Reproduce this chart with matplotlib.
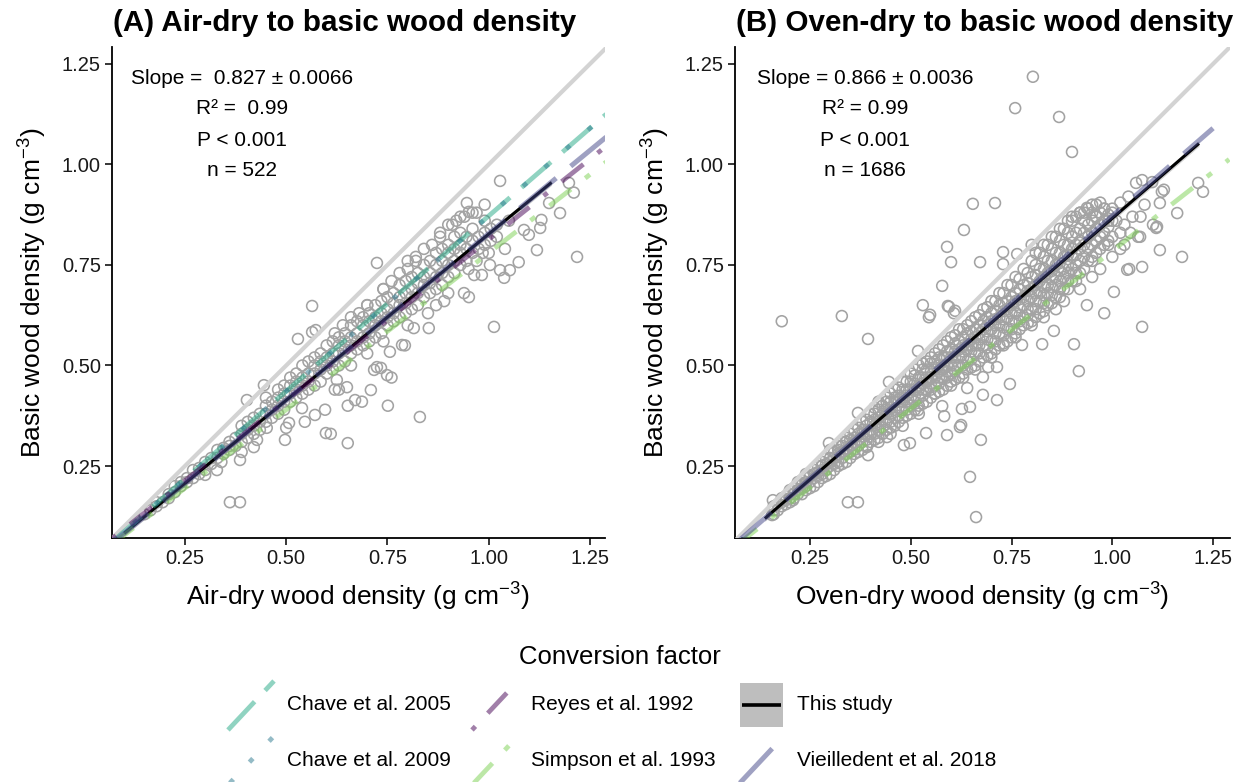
import matplotlib
matplotlib.use("Agg")
import matplotlib.pyplot as plt
from matplotlib.patches import Rectangle

# ---------------- text ----------------
panel_titles = ["(A) Air-dry to basic wood density", "(B) Oven-dry to basic wood density"]
x_labels = ["Air-dry wood density (g cm$^{-3}$)", "Oven-dry wood density (g cm$^{-3}$)"]
y_label = "Basic wood density (g cm$^{-3}$)"
tick_values = [0.25, 0.50, 0.75, 1.00, 1.25]
tick_labels = ["0.25", "0.50", "0.75", "1.00", "1.25"]
stats_A = ["Slope =  0.827 ± 0.0066", "R² =  0.99", "P < 0.001", "n = 522"]
stats_B = ["Slope = 0.866 ± 0.0036", "R² = 0.99", "P < 0.001", "n = 1686"]
legend_title = "Conversion factor"
legend_labels = ["Chave et al. 2005", "Chave et al. 2009", "Reyes et al. 1992",
                 "Simpson et al. 1993", "This study", "Vieilledent et al. 2018"]

# ---------------- conversion lines: slope, intercept, x from, x to ----------------
lines_A = {
    "Chave et al. 2005": (0.872, 0.0, 0.07, 1.29),
    "Chave et al. 2009": (0.872, 0.0, 0.07, 1.29),
    "Reyes et al. 1992": (0.800, 0.0134, 0.07, 1.29),
    "Simpson et al. 1993": (0.780, 0.0, 0.07, 1.29),
    "Vieilledent et al. 2018": (0.828, 0.0, 0.07, 1.29),
}
this_study_A = (0.827, 0.0, 0.10, 1.155)
lines_B = {
    "Simpson et al. 1993": (0.785, 0.0, 0.066, 1.29),
    "Vieilledent et al. 2018": (0.872, 0.0, 0.066, 1.25),
}
this_study_B = (0.866, 0.0, 0.138, 1.215)

# ---------------- points, panel A ----------------
a_band_x = [0.15, 0.18, 0.21, 0.24, 0.27, 0.30, 0.33, 0.36, 0.39, 0.42, 0.45, 0.48,
            0.51, 0.54, 0.57, 0.60, 0.63, 0.66, 0.69, 0.72, 0.75, 0.78, 0.81, 0.84,
            0.87, 0.90, 0.93, 0.96, 0.99, 1.02, 1.05]
a_band_y = [[0.13], [0.15, 0.16], [0.17, 0.18], [0.20, 0.21], [0.22, 0.24], [0.24, 0.26],
            [0.27, 0.29], [0.29, 0.30, 0.31], [0.31, 0.33, 0.35], [0.33, 0.35, 0.37],
            [0.36, 0.38, 0.40, 0.42], [0.38, 0.40, 0.42, 0.44], [0.41, 0.43, 0.45, 0.47],
            [0.43, 0.45, 0.47, 0.50], [0.45, 0.48, 0.50, 0.52], [0.48, 0.50, 0.52, 0.55],
            [0.50, 0.53, 0.55, 0.57], [0.53, 0.55, 0.57, 0.60], [0.55, 0.57, 0.60, 0.62],
            [0.57, 0.60, 0.62, 0.65], [0.60, 0.62, 0.64, 0.67], [0.62, 0.65, 0.67, 0.70],
            [0.64, 0.67, 0.69, 0.72], [0.67, 0.70, 0.72, 0.75], [0.69, 0.72, 0.75, 0.78],
            [0.72, 0.75, 0.78, 0.80], [0.75, 0.78, 0.80, 0.83], [0.78, 0.81, 0.84],
            [0.80, 0.83, 0.86], [0.82, 0.85], [0.86]]
a_band2_x = [0.165, 0.195, 0.225, 0.255, 0.285, 0.315, 0.345, 0.375, 0.405, 0.435, 0.465,
             0.495, 0.525, 0.555, 0.585, 0.615, 0.645, 0.675, 0.705, 0.735, 0.765, 0.795,
             0.825, 0.855, 0.885, 0.915, 0.945, 0.975, 1.005]
a_band2_y = [[0.14], [0.16], [0.185, 0.20], [0.21, 0.22], [0.23, 0.245], [0.255, 0.27],
             [0.28, 0.295], [0.30, 0.32], [0.32, 0.34, 0.36], [0.34, 0.36, 0.38],
             [0.37, 0.39, 0.41], [0.39, 0.41, 0.43, 0.45], [0.42, 0.44, 0.46, 0.48],
             [0.44, 0.46, 0.48, 0.51], [0.46, 0.49, 0.51, 0.53], [0.49, 0.51, 0.53, 0.56],
             [0.51, 0.54, 0.56, 0.58], [0.54, 0.56, 0.58, 0.61], [0.56, 0.58, 0.61, 0.63],
             [0.58, 0.61, 0.63, 0.66], [0.61, 0.63, 0.655, 0.68], [0.63, 0.655, 0.68, 0.71],
             [0.65, 0.68, 0.705, 0.73], [0.68, 0.705, 0.73, 0.76], [0.70, 0.73, 0.76, 0.79],
             [0.73, 0.76, 0.79, 0.82], [0.76, 0.79, 0.82], [0.79, 0.82], [0.81, 0.84]]
a_extra_x = [0.361, 0.386, 0.300, 0.329, 0.340, 0.386, 0.390, 0.420, 0.428, 0.452, 0.445,
             0.403, 0.497, 0.500, 0.507, 0.529, 0.539, 0.546, 0.564, 0.564, 0.571, 0.596,
             0.598, 0.625, 0.620, 0.630, 0.650, 0.652, 0.652, 0.670, 0.717, 0.724, 0.724,
             0.749, 0.756, 0.786, 0.815, 0.852, 0.939, 0.946, 0.951, 0.951, 0.964, 0.983,
             1.003, 1.013, 1.028, 1.028, 1.038, 1.052, 1.074, 1.087, 1.099, 1.119, 1.127,
             1.130, 1.149, 1.176, 1.198, 1.210, 1.218, 0.830, 0.610, 0.751, 0.793, 0.687,
             0.709, 0.760, 0.734, 0.573, 0.880, 0.910, 0.930, 0.960, 0.890, 0.985, 0.870,
             0.820, 0.800, 0.700, 0.740,
             0.620, 0.660, 0.700, 0.740, 0.780, 0.820, 0.860, 0.880, 0.900, 0.920, 0.940,
             0.970, 0.990, 0.840, 0.800, 0.760, 0.680, 0.640,
             0.660, 0.700, 0.740, 0.800, 0.850, 0.900, 0.950, 1.000, 0.970, 1.040]
a_extra_y = [0.160, 0.160, 0.228, 0.240, 0.260, 0.265, 0.285, 0.297, 0.315, 0.345, 0.451,
             0.414, 0.315, 0.345, 0.357, 0.566, 0.394, 0.360, 0.583, 0.648, 0.377, 0.390,
             0.332, 0.464, 0.440, 0.440, 0.446, 0.307, 0.400, 0.414, 0.489, 0.496, 0.755,
             0.476, 0.534, 0.551, 0.593, 0.593, 0.680, 0.904, 0.670, 0.882, 0.725, 0.725,
             0.750, 0.596, 0.959, 0.737, 0.718, 0.737, 0.757, 0.837, 0.825, 0.787, 0.842,
             0.862, 0.904, 0.879, 0.954, 0.930, 0.770, 0.372, 0.330, 0.400, 0.550, 0.410,
             0.439, 0.470, 0.494, 0.588, 0.820, 0.850, 0.870, 0.880, 0.660, 0.780, 0.650,
             0.760, 0.740, 0.650, 0.690,
             0.580, 0.620, 0.650, 0.690, 0.730, 0.770, 0.800, 0.830, 0.850, 0.860, 0.870,
             0.880, 0.900, 0.790, 0.760, 0.710, 0.630, 0.600,
             0.500, 0.530, 0.560, 0.600, 0.630, 0.680, 0.740, 0.780, 0.760, 0.790]

# ---------------- points, panel B ----------------
b_band_x = [0.16, 0.18, 0.20, 0.22, 0.24, 0.26, 0.28, 0.30, 0.32, 0.34, 0.36, 0.38, 0.40,
            0.42, 0.44, 0.46, 0.48, 0.50, 0.52, 0.54, 0.56, 0.58, 0.60, 0.62, 0.64, 0.66,
            0.68, 0.70, 0.72, 0.74, 0.76, 0.78, 0.80, 0.82, 0.84, 0.86, 0.88, 0.90, 0.92,
            0.94, 0.96, 0.98, 1.00]
b_band_y = [[0.13, 0.14, 0.15], [0.15, 0.16, 0.17], [0.16, 0.17, 0.18, 0.19],
            [0.18, 0.19, 0.20, 0.21], [0.19, 0.20, 0.21, 0.22, 0.23], [0.20, 0.22, 0.23, 0.24],
            [0.22, 0.23, 0.24, 0.25, 0.26], [0.23, 0.25, 0.26, 0.27, 0.29],
            [0.25, 0.26, 0.28, 0.29, 0.30], [0.26, 0.28, 0.29, 0.31, 0.32],
            [0.28, 0.29, 0.31, 0.32, 0.34], [0.29, 0.31, 0.33, 0.34, 0.36],
            [0.31, 0.33, 0.34, 0.36, 0.38], [0.32, 0.34, 0.36, 0.37, 0.39, 0.41],
            [0.34, 0.36, 0.38, 0.39, 0.41, 0.42], [0.35, 0.37, 0.39, 0.41, 0.42, 0.44],
            [0.37, 0.39, 0.41, 0.42, 0.44, 0.46], [0.38, 0.40, 0.42, 0.44, 0.46, 0.48],
            [0.40, 0.42, 0.44, 0.45, 0.47, 0.50], [0.41, 0.44, 0.46, 0.47, 0.49, 0.51],
            [0.43, 0.45, 0.47, 0.49, 0.51, 0.53], [0.44, 0.47, 0.49, 0.50, 0.52, 0.55],
            [0.46, 0.48, 0.50, 0.52, 0.54, 0.57], [0.47, 0.50, 0.52, 0.54, 0.56, 0.59],
            [0.49, 0.51, 0.54, 0.55, 0.58, 0.60], [0.50, 0.53, 0.55, 0.57, 0.59, 0.62],
            [0.52, 0.55, 0.57, 0.59, 0.61, 0.64], [0.53, 0.56, 0.59, 0.61, 0.63, 0.66],
            [0.55, 0.58, 0.60, 0.62, 0.65, 0.68], [0.56, 0.59, 0.62, 0.64, 0.66, 0.70],
            [0.58, 0.61, 0.63, 0.66, 0.68, 0.72], [0.60, 0.62, 0.65, 0.67, 0.70, 0.74],
            [0.61, 0.64, 0.67, 0.69, 0.72, 0.76, 0.80], [0.63, 0.66, 0.68, 0.71, 0.74, 0.78],
            [0.65, 0.68, 0.70, 0.73, 0.76, 0.80], [0.67, 0.70, 0.72, 0.75, 0.78, 0.82],
            [0.69, 0.72, 0.74, 0.77, 0.80, 0.84], [0.71, 0.74, 0.77, 0.79, 0.82, 0.86],
            [0.73, 0.76, 0.79, 0.81, 0.84, 0.88], [0.76, 0.79, 0.82, 0.85, 0.89],
            [0.78, 0.81, 0.84, 0.87, 0.90], [0.80, 0.83, 0.86, 0.89], [0.82, 0.86, 0.89]]
b_band2_x = [0.17, 0.19, 0.21, 0.23, 0.25, 0.27, 0.29, 0.31, 0.33, 0.35, 0.37, 0.39, 0.41,
             0.43, 0.45, 0.47, 0.49, 0.51, 0.53, 0.55, 0.57, 0.59, 0.61, 0.63, 0.65, 0.67,
             0.69, 0.71, 0.73, 0.75, 0.77, 0.79, 0.81, 0.83, 0.85, 0.87, 0.89, 0.91, 0.93,
             0.95, 0.97, 0.99]
b_band2_y = [[0.14, 0.155], [0.155, 0.165, 0.175], [0.17, 0.18, 0.195],
             [0.18, 0.195, 0.205, 0.215], [0.195, 0.21, 0.225], [0.21, 0.225, 0.235, 0.25],
             [0.225, 0.24, 0.255, 0.27], [0.24, 0.255, 0.27, 0.285],
             [0.255, 0.27, 0.285, 0.30, 0.31], [0.27, 0.285, 0.30, 0.315, 0.33],
             [0.285, 0.30, 0.315, 0.33, 0.345], [0.30, 0.315, 0.33, 0.35, 0.365],
             [0.315, 0.33, 0.35, 0.365, 0.38, 0.395], [0.33, 0.345, 0.365, 0.38, 0.40],
             [0.345, 0.36, 0.38, 0.395, 0.41, 0.43], [0.36, 0.375, 0.395, 0.41, 0.425, 0.445],
             [0.375, 0.39, 0.41, 0.425, 0.44, 0.46],
             [0.39, 0.41, 0.425, 0.44, 0.455, 0.475, 0.49],
             [0.405, 0.425, 0.44, 0.455, 0.47, 0.49, 0.505],
             [0.42, 0.44, 0.455, 0.47, 0.485, 0.505, 0.52],
             [0.435, 0.455, 0.47, 0.485, 0.50, 0.52, 0.54],
             [0.45, 0.47, 0.485, 0.50, 0.52, 0.535, 0.56],
             [0.465, 0.485, 0.50, 0.52, 0.535, 0.555, 0.575],
             [0.48, 0.50, 0.52, 0.535, 0.55, 0.57, 0.59],
             [0.495, 0.515, 0.535, 0.55, 0.565, 0.585, 0.61],
             [0.51, 0.53, 0.55, 0.565, 0.58, 0.60, 0.625],
             [0.525, 0.545, 0.565, 0.585, 0.60, 0.62, 0.645],
             [0.54, 0.56, 0.58, 0.60, 0.615, 0.635, 0.66],
             [0.555, 0.575, 0.595, 0.615, 0.635, 0.655, 0.68],
             [0.57, 0.59, 0.61, 0.63, 0.65, 0.67, 0.70],
             [0.59, 0.61, 0.625, 0.645, 0.665, 0.69, 0.715],
             [0.605, 0.625, 0.64, 0.66, 0.685, 0.705, 0.73],
             [0.62, 0.64, 0.66, 0.68, 0.70, 0.725, 0.75, 0.78],
             [0.635, 0.655, 0.675, 0.695, 0.72, 0.74, 0.77, 0.80],
             [0.655, 0.675, 0.695, 0.715, 0.735, 0.76, 0.79, 0.82],
             [0.67, 0.69, 0.71, 0.735, 0.755, 0.78, 0.81, 0.84],
             [0.69, 0.71, 0.73, 0.75, 0.775, 0.80, 0.83, 0.86],
             [0.71, 0.73, 0.75, 0.775, 0.80, 0.83, 0.87],
             [0.74, 0.77, 0.80, 0.83, 0.86, 0.88], [0.77, 0.80, 0.83, 0.86, 0.88],
             [0.79, 0.82, 0.85, 0.88], [0.81, 0.845, 0.875]]
b_extra_x = [0.180, 0.329, 0.394, 0.530, 0.545, 0.592, 0.607, 0.518, 0.446, 0.369, 0.297,
             0.158, 0.208, 0.156, 0.344, 0.369, 0.647, 0.662, 0.674, 0.590, 0.538, 0.483,
             0.498, 0.394, 0.391, 0.441, 0.583, 0.578, 0.518, 0.625, 0.622, 0.647, 0.627,
             0.679, 0.714, 0.679, 0.692, 0.714, 0.640, 0.746, 0.855, 0.826, 0.776, 0.905,
             0.917, 0.937, 0.980, 1.004, 1.074, 1.037, 1.074, 1.042, 1.118, 1.173, 1.064,
             1.069, 1.109, 1.101, 1.111, 1.161, 1.118, 1.123, 1.128, 1.059, 1.074, 1.099,
             1.213, 1.225, 0.900, 0.803, 0.759, 0.868, 0.654, 0.709, 0.632, 0.590, 0.600,
             0.672, 0.729, 0.729, 0.764, 0.578, 0.548, 0.595, 0.610, 0.560, 0.600, 0.630,
             0.660, 0.700, 0.730, 0.760, 0.800, 0.830, 0.860, 0.880, 0.920, 0.950, 0.970,
             1.000, 1.020, 0.950, 0.990, 1.030, 0.450, 0.480, 0.520, 0.420, 0.937, 0.950,
             0.970, 0.980, 1.000, 1.020, 1.040, 0.960, 0.920, 0.900, 0.990, 1.010, 1.030,
             1.050, 1.020, 1.045, 1.070, 1.080]
b_extra_y = [0.610, 0.623, 0.566, 0.650, 0.620, 0.648, 0.630, 0.536, 0.459, 0.382, 0.307,
             0.165, 0.165, 0.128, 0.160, 0.160, 0.223, 0.123, 0.315, 0.327, 0.332, 0.302,
             0.307, 0.277, 0.297, 0.322, 0.374, 0.399, 0.389, 0.352, 0.347, 0.397, 0.392,
             0.427, 0.414, 0.471, 0.496, 0.496, 0.444, 0.454, 0.586, 0.553, 0.551, 0.553,
             0.486, 0.650, 0.630, 0.683, 0.596, 0.738, 0.745, 0.740, 0.787, 0.770, 0.820,
             0.820, 0.842, 0.850, 0.845, 0.879, 0.904, 0.932, 0.937, 0.954, 0.961, 0.956,
             0.954, 0.932, 1.031, 1.218, 1.140, 1.118, 0.902, 0.904, 0.837, 0.795, 0.757,
             0.757, 0.752, 0.782, 0.777, 0.698, 0.626, 0.646, 0.636, 0.430, 0.450, 0.470,
             0.490, 0.520, 0.550, 0.570, 0.600, 0.620, 0.640, 0.660, 0.690, 0.720, 0.740,
             0.770, 0.790, 0.760, 0.800, 0.800, 0.330, 0.350, 0.380, 0.310, 0.892, 0.900,
             0.905, 0.890, 0.880, 0.905, 0.920, 0.870, 0.880, 0.870, 0.860, 0.860, 0.850,
             0.870, 0.830, 0.830, 0.870, 0.900]

# ---------------- style ----------------
plt.rcParams['font.family'] = ['Liberation Sans', 'DejaVu Sans']
plt.rcParams['mathtext.fontset'] = 'custom'
plt.rcParams['mathtext.rm'] = 'Liberation Sans'
plt.rcParams['mathtext.it'] = 'Liberation Sans:italic'
plt.rcParams['mathtext.bf'] = 'Liberation Sans:bold'
plt.rcParams['lines.scale_dashes'] = False

styles = {
    "Chave et al. 2005": dict(color='#22A884', ls=(0, (28, 11)), lw=3.4),
    "Chave et al. 2009": dict(color='#2A788E', ls=(0, (3.6, 17)), lw=3.4),
    "Reyes et al. 1992": dict(color='#440154', ls=(0, (3.6, 13, 20, 13)), lw=3.4),
    "Simpson et al. 1993": dict(color='#7AD151', ls=(0, (19.5, 13, 4.3, 13)), lw=3.4),
    "Vieilledent et al. 2018": dict(color='#414487', ls=(0, (34, 13.5)), lw=3.6),
}
ALPHA = 0.5
POINT_COLOR = '#A3A3A3'

W, H = 1245, 782
fig = plt.figure(figsize=(W / 100, H / 100), dpi=100)
fig.patch.set_facecolor('white')


def px_axes(l, t, r, b):
    return fig.add_axes([l / W, 1 - b / H, (r - l) / W, (b - t) / H])


def flatten(bx, by):
    xs, ys = [], []
    for x, yl in zip(bx, by):
        for y in yl:
            xs.append(x)
            ys.append(y)
    return xs, ys


axA = px_axes(112, 47, 605, 538)
axB = px_axes(735, 47, 1230, 538)

panels = [
    (axA, (0.07, 1.287), (0.071, 1.292),
     [flatten(a_band_x, a_band_y), flatten(a_band2_x, a_band2_y), (a_extra_x, a_extra_y)],
     lines_A, this_study_A),
    (axB, (0.064, 1.292), (0.071, 1.292),
     [flatten(b_band_x, b_band_y), flatten(b_band2_x, b_band2_y), (b_extra_x, b_extra_y)],
     lines_B, this_study_B),
]

for ax, xl, yl, point_sets, lines, ts in panels:
    ax.set_xlim(*xl)
    ax.set_ylim(*yl)
    for spn in ['top', 'right']:
        ax.spines[spn].set_visible(False)
    for spn in ['left', 'bottom']:
        ax.spines[spn].set_linewidth(1.3)
        ax.spines[spn].set_color('black')
    ax.set_xticks(tick_values)
    ax.set_xticklabels(tick_labels)
    ax.set_yticks(tick_values)
    ax.set_yticklabels(tick_labels)
    ax.tick_params(axis='both', length=5, width=1.1, color='black', labelsize=14.5,
                   labelcolor='#1a1a1a', pad=3)
    # points
    for xs, ys in point_sets:
        ax.scatter(xs, ys, s=62, facecolors='none', edgecolors=POINT_COLOR,
                   linewidths=1.15, zorder=2)
    # 1:1 line
    ax.plot([xl[0], 1.3], [xl[0], 1.3], color='#D3D3D3', lw=3.0, zorder=3,
            solid_capstyle='butt')
    # this study
    s, i, x0, x1 = ts
    ax.fill_between([x0, x1], [s * x0 + i - 0.007, s * x1 + i - 0.007],
                    [s * x0 + i + 0.007, s * x1 + i + 0.007], color='#999999', alpha=0.45,
                    lw=0, zorder=3.5)
    ax.plot([x0, x1], [s * x0 + i, s * x1 + i], color='black', lw=2.2, zorder=4,
            solid_capstyle='butt')
    # literature factors
    for name, (s, i, x0, x1) in lines.items():
        st = styles[name]
        ax.plot([x0, x1], [s * x0 + i, s * x1 + i], color=st['color'], ls=st['ls'],
                lw=st['lw'], alpha=ALPHA, zorder=5, dash_capstyle='butt')

# ---------------- overlay for texts and legend ----------------
ov = fig.add_axes([0, 0, 1, 1])
ov.set_xlim(0, W)
ov.set_ylim(H, 0)
ov.axis('off')
ov.patch.set_visible(False)

ov.text(113, 23, panel_titles[0], fontsize=21.3, fontweight='bold', ha='left', va='center')
ov.text(736, 23, panel_titles[1], fontsize=21.3, fontweight='bold', ha='left', va='center')

for k, line in enumerate(stats_A):
    ov.text(242, 78 + k * 31, line, fontsize=15, ha='center', va='center')
for k, line in enumerate(stats_B):
    ov.text(865, 78 + k * 31, line, fontsize=15, ha='center', va='center')

ov.text(358, 597, x_labels[0], fontsize=19, ha='center', va='center')
ov.text(982, 597, x_labels[1], fontsize=19, ha='center', va='center')
ov.text(33, 293, y_label, fontsize=19, ha='center', va='center', rotation=90)
ov.text(656, 293, y_label, fontsize=19, ha='center', va='center', rotation=90)

# legend
ov.text(620, 657, legend_title, fontsize=18.5, ha='center', va='center')
key_pos = {
    "Chave et al. 2005": (228, 705),
    "Chave et al. 2009": (228, 760),
    "Reyes et al. 1992": (472, 705),
    "Simpson et al. 1993": (472, 760),
    "This study": (738, 705),
    "Vieilledent et al. 2018": (738, 760),
}
for name in legend_labels:
    kx, ky = key_pos[name]
    if name == "This study":
        ov.add_patch(Rectangle((kx + 2, ky - 22), 43, 44, facecolor='#BEBEBE',
                               edgecolor='none'))
        ov.plot([kx + 4, kx + 43], [ky, ky], color='black', lw=2.6, solid_capstyle='butt')
    else:
        st = styles[name]
        ov.plot([kx, kx + 46], [ky + 25, ky - 24], color=st['color'], ls=st['ls'],
                lw=st['lw'], alpha=ALPHA, dash_capstyle='butt')
    ov.text(kx + 59, ky, name, fontsize=15, ha='left', va='center')

fig.savefig('out.png', dpi=100)
